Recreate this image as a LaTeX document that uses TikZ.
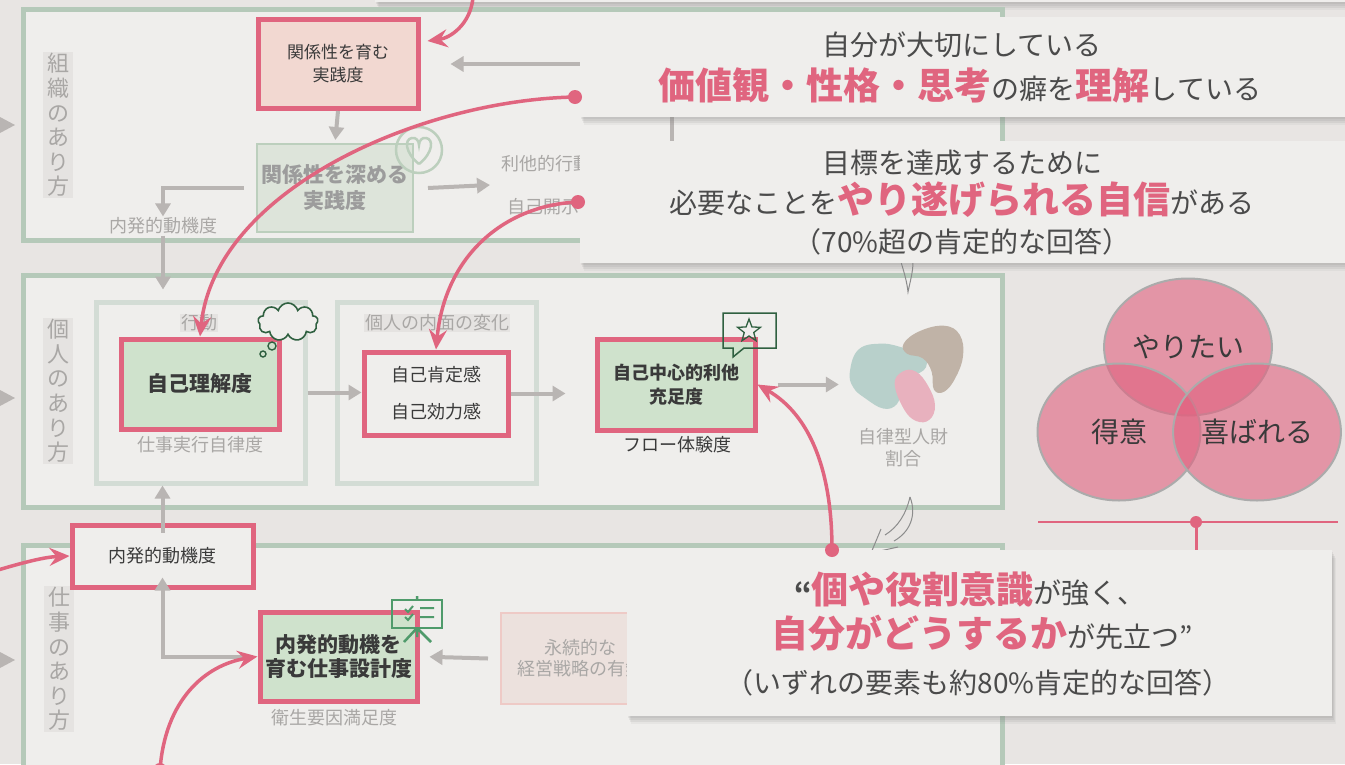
\documentclass[tikz,border=0pt]{standalone}
\usepackage{fontspec}
\setmainfont{Noto Sans CJK JP}
\usetikzlibrary{arrows.meta,calc,shadows,shapes.geometric,shapes.symbols}

\definecolor{bgcol}{HTML}{E8E5E3}
\definecolor{panelfill}{HTML}{EFEEEC}
\definecolor{panelline}{HTML}{B5C9B9}
\definecolor{subline}{HTML}{D3DCD5}
\definecolor{labelbg}{HTML}{E5E3E1}
\definecolor{pinkline}{HTML}{E0657F}
\definecolor{pinkfill}{HTML}{F2D8D1}
\definecolor{greenfill}{HTML}{CFE2CC}
\definecolor{palegreen}{HTML}{DDE4DA}
\definecolor{softgreen}{HTML}{BCCFBD}
\definecolor{palepink}{HTML}{ECE1DD}
\definecolor{softpink}{HTML}{EECAC6}
\definecolor{arrowgray}{HTML}{B9B5B3}
\definecolor{labelgray}{HTML}{A9A7A5}
\definecolor{mutedtext}{HTML}{9C9C9C}
\definecolor{darktext}{HTML}{3A3A3A}
\definecolor{calltext}{HTML}{4B4B4B}
\definecolor{icongreen}{HTML}{2F6040}
\definecolor{boardgreen}{HTML}{4F9B6B}
\definecolor{vennfill}{HTML}{E1607E}
\definecolor{blobteal}{HTML}{B8D0CB}
\definecolor{blobbrown}{HTML}{C0B3A7}
\definecolor{blobpink}{HTML}{E8B1BE}

% big pink words inside the callouts
\newcommand{\pinkbold}[1]{{\fontsize{37}{40}\selectfont\bfseries\color{pinkline}#1}}

\tikzset{
  panel/.style={draw=panelline, line width=5pt, fill=panelfill, minimum width=979pt},
  subpanel/.style={draw=subline, line width=5pt, fill=panelfill, minimum height=181pt},
  keybox/.style={draw=pinkline, line width=5pt, align=center, text=darktext},
  softbox/.style={draw=#1, line width=2pt, align=center},
  sidelabel/.style={fill=labelbg, text=labelgray, align=center, inner xsep=4pt, inner ysep=1pt,
    font=\fontsize{22}{24.6}\selectfont},
  sublabel/.style={fill=labelbg, text=labelgray, inner sep=1pt, font=\fontsize{18}{20}\selectfont},
  graynote/.style={text=labelgray, inner sep=1pt, font=\fontsize{18}{22}\selectfont},
  graylink/.style={draw=arrowgray, line width=4pt, -{Triangle[length=13pt,width=15pt]}},
  pinklink/.style={draw=pinkline, line width=3.5pt, -{Stealth[length=20pt,width=18pt,inset=7pt]}},
  pinkdot/.style={circle, fill=pinkline, inner sep=0pt, minimum size=14pt},
  callout/.style={fill=panelfill,
    drop shadow={shadow xshift=1pt, shadow yshift=-2pt, opacity=0.12},
    drop shadow={shadow xshift=2pt, shadow yshift=-4pt, opacity=0.12},
    drop shadow={shadow xshift=3pt, shadow yshift=-6pt, opacity=0.12},
    drop shadow={shadow xshift=4pt, shadow yshift=-8pt, opacity=0.08}},
  calltextstyle/.style={text=calltext, font=\fontsize{28}{32}\selectfont},
  venn/.style={ellipse, draw=black!33, line width=2pt, fill=vennfill, fill opacity=0.6, text opacity=1,
    text=darktext, minimum width=163pt, minimum height=137pt, font=\fontsize{28}{30}\selectfont},
  curvy/.style={draw=black!45, line width=1pt},
}

\begin{document}
\begin{tikzpicture}[x=1pt, y=-1pt]
\fill[bgcol] (0,0) rectangle (1345,764);
\useasboundingbox (0,0) rectangle (1345,764);

% note box above, mostly off the page
\node[callout, minimum width=995pt, minimum height=62pt] (prevnote) at (872,-29) {};

% the three layers
\node[panel, minimum height=231pt] (org) at (513,125) {};
\node[panel, minimum height=232pt] (person) at (513,391) {};
\node[panel, minimum height=256pt] (work) at (513,673) {};
\node[sidelabel] (orglabel) at (58,125) {組\\織\\の\\あ\\り\\方};
\node[sidelabel] (personlabel) at (58,391) {個\\人\\の\\あ\\り\\方};
\node[sidelabel] (worklabel) at (59,659) {仕\\事\\の\\あ\\り\\方};
\foreach \y in {125,398,660}
  \fill[arrowgray] (0,\y-8) -- (15,\y) -- (0,\y+8) -- cycle;

% organisation layer
\node[keybox, fill=pinkfill, minimum width=160pt, minimum height=89pt,
  font=\fontsize{17}{23}\selectfont] (grow) at (338,64) {関係性を育む\\実践度};
\node[softbox=softgreen, fill=palegreen, minimum width=156pt, minimum height=88pt,
  text=mutedtext, font=\fontsize{21}{26}\selectfont\bfseries] (deepen) at (335,188) {関係性を深める\\実践度};
\node[circle, draw=softgreen, line width=2.5pt, minimum size=46pt] (heart) at (419,150) {};
\draw[softgreen, line width=2.5pt] (419,164) .. controls (405,153) and (404,139) .. (412,138)
  .. controls (416,137) and (419,141) .. (419,145) .. controls (419,141) and (422,137) .. (426,138)
  .. controls (434,139) and (433,153) .. (419,164);
\node[graynote] (motivorg) at (163,226) {内発的動機度};
\node[graynote, anchor=west] (altruism) at (500,164) {利他的行動};
\node[graynote, anchor=west] (disclose) at (506,207) {自己開示};
\coordinate (altgap) at (490,185);
\coordinate (feedback) at (672,175);

% individual layer
\node[subpanel, minimum width=209pt] (action) at (200.5,392.5) {};
\node[subpanel, minimum width=199pt] (inner) at (436.5,392.5) {};
\node[sublabel] (actionlabel) at (199,323) {行動};
\node[sublabel] (innerlabel) at (437,323) {個人の内面の変化};
\node[keybox, fill=greenfill, minimum width=158pt, minimum height=90pt,
  font=\fontsize{21}{26}\selectfont\bfseries] (selfknow) at (200,384) {自己理解度};
\node[graynote] (autonomy) at (200,445) {仕事実行自律度};
\node[cloud, cloud puffs=9, aspect=1.6, draw=icongreen, fill=panelfill, line width=1.6pt,
  minimum width=60pt, minimum height=38pt, inner sep=0pt] (thought) at (288,322) {};
\draw[icongreen, line width=1.4pt, fill=greenfill] (272,346) circle[radius=4pt];
\draw[icongreen, line width=1.4pt, fill=greenfill] (263,354) circle[radius=3pt];
\node[keybox, fill=panelfill, minimum width=144pt, minimum height=83pt,
  font=\fontsize{18}{37}\selectfont] (selfworth) at (436,393.5) {自己肯定感\\自己効力感};
\node[keybox, fill=greenfill, minimum width=158pt, minimum height=91pt,
  font=\fontsize{18}{24}\selectfont\bfseries] (flow) at (676,384.5) {自己中心的利他\\充足度};
\draw[icongreen, line width=1.5pt] (723,313) -- (776,313) -- (776,348) -- (744,348)
  -- (733,357) -- (733,348) -- (723,348) -- cycle;
\node[star, star points=5, star point ratio=2.4, draw=icongreen, line width=1.3pt,
  minimum size=24pt, inner sep=0pt] (star) at (749,331) {};
\node[text=darktext, inner sep=1pt, font=\fontsize{18}{22}\selectfont] (flowlabel) at (677,445) {フロー体験度};
\node[minimum width=100pt, minimum height=90pt] (talent) at (907,375) {};
\begin{scope}[shift={(907,375)}, scale=1.12, shift={(-907,-375)}]
\fill[blobteal] plot[smooth cycle, tension=0.7] coordinates {(856,372) (864,352) (885,347) (905,351)
  (921,355) (924,368) (912,377) (903,387) (898,401) (886,405) (870,396) (859,386)};
\fill[blobbrown] plot[smooth cycle, tension=0.7] coordinates {(904,347) (918,336) (940,331) (954,339)
  (957,358) (950,378) (940,390) (931,388) (929,372) (921,360) (907,356)};
\fill[blobpink] plot[smooth cycle, tension=0.7] coordinates {(896,383) (903,372) (915,372) (926,385)
  (932,402) (927,415) (915,416) (904,405)};
\end{scope}
\node[graynote, align=center] (talentlabel) at (903,448) {自律型人財\\割合};

% work layer
\node[keybox, fill=panelfill, minimum width=181pt, minimum height=62pt,
  font=\fontsize{18}{22}\selectfont] (motiv) at (162.5,556) {内発的動機度};
\node[keybox, fill=greenfill, minimum width=157pt, minimum height=89pt,
  font=\fontsize{21}{24}\selectfont\bfseries] (design) at (338.5,656.5) {内発的動機を\\育む仕事設計度};
\node[graynote] (hygiene) at (334,718) {衛生要因満足度};
\draw[boardgreen, line width=2.5pt] (392,600) rectangle (442,628);
\draw[boardgreen, line width=2.5pt] (417,596) -- (417,600) (417,628) -- (417,637)
  (417,628) -- (404,642) (417,628) -- (431,642);
\draw[boardgreen, line width=2pt] (405,609) -- (408,612) -- (413,606) (405,617) -- (408,620) -- (413,614)
  (420,608) -- (434,608) (420,617) -- (434,617);
\node[softbox=softpink, fill=palepink, minimum width=158pt, minimum height=91pt,
  text=labelgray, font=\fontsize{18}{21}\selectfont] (strategy) at (580,658.5) {永続的な\\経営戦略の有無};

% gray links
\draw[graylink] (feedback) |- ([xshift=30pt]grow.east);
\draw[graylink, shorten >=3pt] (grow.south) -- (deepen.north);
\draw[graylink] ([xshift=-12pt]deepen.west) -| (motivorg.north);
\draw[graylink] ([xshift=14pt]deepen.east) -- (altgap);
\draw[graylink, shorten >=10pt] (motivorg.south) -- (motivorg.south |- action.north);
\draw[graylink, shorten <=-10pt] (motiv.north) -- (motiv.north |- action.south);
\draw[graylink] (action.east) -- (action.east -| selfworth.west);
\draw[graylink, shorten >=29pt] (selfworth.east) -- (selfworth.east -| flow.west);
\draw[graylink, shorten <=20pt, shorten >=18pt] (flow.east) -- (flow.east -| talent.west);
\draw[graylink, shorten >=-12pt] ([xshift=-12pt]design.west) -| (motiv.south);
\draw[graylink, shorten >=10pt] ([xshift=-12pt]strategy.west) -- (design.east);

% hand-drawn arrows behind the callouts
\draw[curvy] (901,262) .. controls (904,272) and (907,282) .. (908,292)
  .. controls (910,282) and (913,272) .. (913,262);
\draw[curvy] (910,497) .. controls (917,515) and (910,532) .. (894,541);
\draw[curvy] (910,497) .. controls (906,514) and (898,527) .. (885,535);
\draw[curvy] (881,529) -- (871,553) -- (898,547);

% callouts
\node[callout, minimum width=790pt, minimum height=100pt] (note1) at (975,67) {};
\node[calltextstyle] (note1a) at (962,45) {自分が大切にしている};
\node[calltextstyle] (note1b) at (960,85) {\pinkbold{価値観・性格・思考}の癖を\pinkbold{理解}している};
\node[callout, minimum width=790pt, minimum height=122pt] (note2) at (975,202) {};
\node[calltextstyle] (note2a) at (962,163) {目標を達成するために};
\node[calltextstyle] (note2b) at (962,200) {必要なことを\pinkbold{やり遂げられる自信}がある};
\node[calltextstyle] (note2c) at (962,242) {（70\%超の肯定的な回答）};
\node[callout, minimum width=705pt, minimum height=166pt] (note3) at (979.5,633) {};
\node[calltextstyle] (note3a) at (970,590) {{\bfseries“}\pinkbold{個や役割意識}が強く、};
\node[calltextstyle] (note3b) at (982,633) {\pinkbold{自分がどうするか}が先立つ”};
\node[calltextstyle] (note3c) at (978,683) {（いずれの要素も約80\%肯定的な回答）};

% three circles
\node[venn] (want) at (1188,347) {やりたい};
\node[venn] (good) at (1119,432) {得意};
\node[venn] (thanked) at (1257,432) {喜ばれる};
\draw[pinkline, line width=1.5pt] (1038,522) -- (1338,522);
\node[pinkdot, minimum size=12pt] (venndot) at (1196,522) {};
\draw[pinkline, line width=3pt] (venndot.center) -- (venndot |- note3.north);

% pink pointers
\coordinate (topend) at (473,-2);
\draw[pinklink] (topend) .. controls (470,25) and (450,38) .. ($(grow.north east)+(7,24)$);
\node[pinkdot] (dot1) at (575,97) {};
\draw[pinklink] (dot1.center) .. controls (420,100) and (215,190) .. (selfknow.north);
\node[pinkdot] (dot2) at (578,202) {};
\draw[pinklink] (dot2.center) .. controls (505,205) and (445,255) .. (selfworth.north);
\node[pinkdot] (dot3) at (832,550) {};
\draw[pinklink] (dot3.center) .. controls (832,470) and (810,415) .. (flow.east);
\coordinate (leftend) at (-2,570);
\draw[pinklink] (leftend) .. controls (25,562) and (45,557) .. (motiv.west);
\node[pinkdot] (dot4) at (160,770) {};
\draw[pinklink] (dot4.center) .. controls (165,700) and (205,665) .. (design.west);
\end{tikzpicture}
\end{document}
